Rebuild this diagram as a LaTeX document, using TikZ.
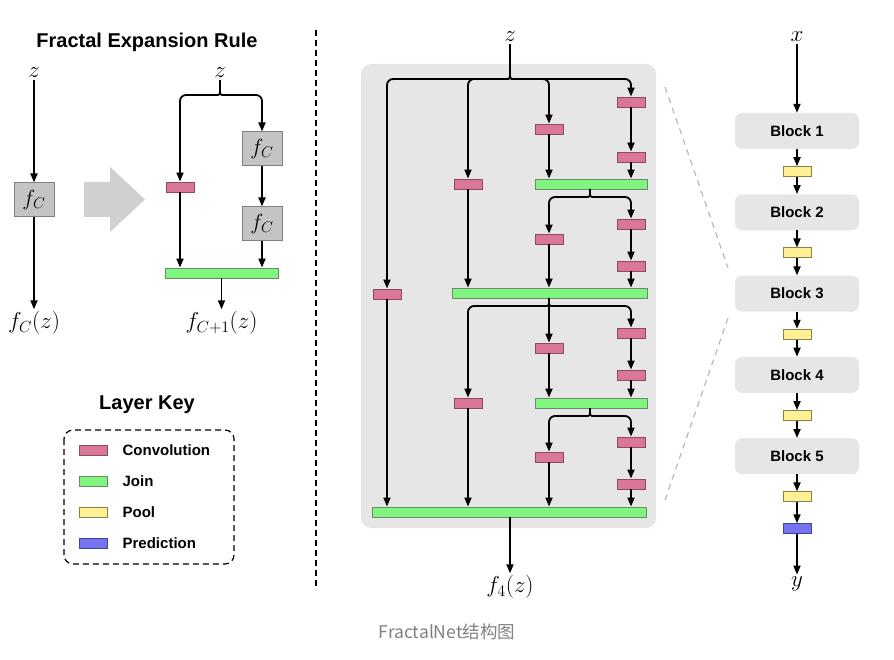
\RequirePackage{fix-cm}
\documentclass[tikz,border=0pt]{standalone}
\usepackage{fontspec}
\setsansfont{Liberation Sans}
\newfontfamily\capfont{Noto Sans CJK SC}
\usetikzlibrary{arrows.meta,positioning}

\definecolor{convfill}{HTML}{DA7698}
\definecolor{convline}{HTML}{8F4A60}
\definecolor{joinfill}{HTML}{80F680}
\definecolor{joinline}{HTML}{6A8A6A}
\definecolor{poolfill}{HTML}{FFF094}
\definecolor{poolline}{HTML}{8A8048}
\definecolor{predfill}{HTML}{7474F0}
\definecolor{predline}{HTML}{42429A}
\definecolor{panel}{HTML}{E6E6E6}
\definecolor{fcfill}{HTML}{C4C4C4}

\begin{document}
\begin{tikzpicture}[
    x=1pt, y=-1pt,
    conv/.style={draw=convline,fill=convfill,line width=0.9pt,minimum width=28pt,minimum height=10pt,inner sep=0pt},
    joinbar/.style={draw=joinline,fill=joinfill,line width=0.9pt,minimum height=10pt,inner sep=0pt},
    pool/.style={draw=poolline,fill=poolfill,line width=0.9pt,minimum width=28pt,minimum height=10pt,inner sep=0pt},
    pred/.style={draw=predline,fill=predfill,line width=0.9pt,minimum width=28pt,minimum height=10pt,inner sep=0pt},
    fcbox/.style={draw=gray,fill=fcfill,line width=1pt,minimum width=40pt,minimum height=34pt,inner sep=0pt,font=\fontsize{22}{24}\selectfont},
    block/.style={fill=panel,rounded corners=7pt,minimum width=124pt,minimum height=36pt,font=\fontsize{15}{17}\selectfont\sffamily\bfseries},
    lbl/.style={inner sep=2pt,font=\fontsize{23}{25}\selectfont},
    heading/.style={font=\fontsize{20}{22}\selectfont\sffamily\bfseries},
    keytext/.style={inner sep=0pt,anchor=west,font=\fontsize{15}{17}\selectfont\sffamily\bfseries},
    flow/.style={-{Triangle[length=9pt,width=7pt]},line width=1.8pt},
    zoomline/.style={draw=gray!55,dash pattern=on 6pt off 5pt,line width=1.2pt},
]
\useasboundingbox (0,0) rectangle (894,660);

%----------------------------------
% Fractal expansion rule
%----------------------------------

\node[heading] (ruleTitle) at (147,42) {Fractal Expansion Rule};

\node[lbl] (zA) at (34,73) {$z$};
\node[fcbox] (fcA) at (34,200) {$f_C$};
\node[lbl] (outA) at (34,323) {$f_C(z)$};

\draw[flow] (zA) -- (fcA);
\draw[flow] (fcA) -- (outA);

\fill[fcfill!80] (84,182) -- (110,182) -- (110,167) -- (145,199.5)
    -- (110,232) -- (110,217) -- (84,217) -- cycle;

\node[lbl] (zB) at (220,73) {$z$};
\node[conv] (cvB) at (180,187) {};
\node[fcbox] (fcB1) at (262,149) {$f_C$};
\node[fcbox] (fcB2) at (262,224) {$f_C$};
\node[joinbar,minimum width=113pt] (jB) at (221.5,273) {};
\node[lbl] (outB) at (221.5,323) {$f_{C+1}(z)$};

\coordinate (sB) at (220,87);
\draw[line width=1.8pt] (zB) -- (sB);
\draw[flow,rounded corners=6pt] (sB) .. controls (220,95) .. (212,95) -| (cvB);
\draw[flow,rounded corners=6pt] (sB) .. controls (220,95) .. (228,95) -| (fcB1);
\draw[flow] (cvB) -- (cvB |- jB.north);
\draw[flow] (fcB1) -- (fcB2);
\draw[flow] (fcB2) -- (fcB2 |- jB.north);
\draw[flow] (jB) -- (outB);

%----------------------------------
% Layer key
%----------------------------------

\node[heading] (keyTitle) at (147,405) {Layer Key};
\draw[dash pattern=on 6pt off 4pt,line width=1.2pt,rounded corners=9pt] (64,430) rectangle (234,564);

\node[conv] (kConv) at (93,450) {};
\node[joinbar,minimum width=28pt] (kJoin) at (93,481) {};
\node[pool] (kPool) at (93,512) {};
\node[pred] (kPred) at (93,543) {};

\node[keytext,right=15pt of kConv] {Convolution};
\node[keytext,right=15pt of kJoin] {Join};
\node[keytext,right=15pt of kPool] {Pool};
\node[keytext,right=15pt of kPred] {Prediction};

\draw[dash pattern=on 6pt off 4pt,line width=1.2pt] (316,30) -- (316,590);

%----------------------------------
% Fractal block, four columns
%----------------------------------

\fill[panel,rounded corners=10pt] (361,64) rectangle (656,528);

\node[lbl] (zC) at (510,37) {$z$};

% column 4
\node[conv] (a4) at (631,102) {};
\node[conv] (b4) at (631,157) {};
\node[conv] (d4) at (631,224) {};
\node[conv] (e4) at (631,266) {};
\node[conv] (g4) at (631,333) {};
\node[conv] (h4) at (631,375) {};
\node[conv] (k4) at (631,442) {};
\node[conv] (m4) at (631,484) {};

% column 3
\node[conv] (a3) at (549,129) {};
\node[conv] (d3) at (549,239) {};
\node[conv] (g3) at (549,348) {};
\node[conv] (k3) at (549,457) {};

% column 2
\node[conv] (a2) at (468,184) {};
\node[conv] (f2) at (468,403) {};

% column 1
\node[conv] (a1) at (387,294) {};

% joins
\node[joinbar,minimum width=112pt] (j1) at (591,184) {};
\node[joinbar,minimum width=195pt] (j2) at (549.5,293) {};
\node[joinbar,minimum width=112pt] (j3) at (591,403) {};
\node[joinbar,minimum width=274pt] (jF) at (509,512) {};

\node[lbl] (outC) at (510,587) {$f_4(z)$};

% split of z
\coordinate (s0) at (510,71);
\draw[line width=1.8pt] (zC) -- (s0);
\draw[flow,rounded corners=6pt] (s0) .. controls (510,79) .. (502,79) -| (a1);
\draw[flow,rounded corners=6pt] (s0) .. controls (510,79) .. (502,79) -| (a2);
\draw[flow,rounded corners=6pt] (s0) .. controls (510,79) .. (518,79) -| (a3);
\draw[flow,rounded corners=6pt] (s0) .. controls (510,79) .. (518,79) -| (a4);

\draw[flow] (a4) -- (b4);
\draw[flow] (b4) -- (b4 |- j1.north);
\draw[flow] (a3) -- (a3 |- j1.north);

% split of j1
\coordinate (s1) at (590,189);
\draw[flow,rounded corners=6pt] (s1) .. controls (590,197) .. (582,197) -| (d3);
\draw[flow,rounded corners=6pt] (s1) .. controls (590,197) .. (598,197) -| (d4);

\draw[flow] (d4) -- (e4);
\draw[flow] (e4) -- (e4 |- j2.north);
\draw[flow] (d3) -- (d3 |- j2.north);
\draw[flow] (a2) -- (a2 |- j2.north);

% split of j2
\coordinate (s2) at (549,298);
\draw[flow,rounded corners=6pt] (s2) .. controls (549,306) .. (541,306) -| (f2);
\draw[flow] (s2) -- (g3);
\draw[flow,rounded corners=6pt] (s2) .. controls (549,306) .. (557,306) -| (g4);

\draw[flow] (g4) -- (h4);
\draw[flow] (h4) -- (h4 |- j3.north);
\draw[flow] (g3) -- (g3 |- j3.north);

% split of j3
\coordinate (s3) at (590,408);
\draw[flow,rounded corners=6pt] (s3) .. controls (590,416) .. (582,416) -| (k3);
\draw[flow,rounded corners=6pt] (s3) .. controls (590,416) .. (598,416) -| (k4);

\draw[flow] (k4) -- (m4);
\draw[flow] (m4) -- (m4 |- jF.north);
\draw[flow] (k3) -- (k3 |- jF.north);
\draw[flow] (f2) -- (f2 |- jF.north);
\draw[flow] (a1) -- (a1 |- jF.north);

\draw[flow] (jF.south -| outC) -- (outC);

%----------------------------------
% Whole network
%----------------------------------

\node[lbl] (xIn) at (797,37) {$x$};
\node[block] (b1) at (797,131) {Block 1};
\node[pool,below=17pt of b1] (p1) {};
\node[block,below=17pt of p1] (b2) {Block 2};
\node[pool,below=17pt of b2] (p2) {};
\node[block,below=17pt of p2] (b3) {Block 3};
\node[pool,below=17pt of b3] (p3) {};
\node[block,below=17pt of p3] (b4) {Block 4};
\node[pool,below=17pt of b4] (p4) {};
\node[block,below=17pt of p4] (b5) {Block 5};
\node[pool,below=17pt of b5] (p5) {};
\node[pred,below=21pt of p5] (pr) {};
\node[lbl] (yOut) at (797,584) {$y$};

\draw[flow] (xIn) -- (b1);
\draw[flow] (b1) -- (p1);
\draw[flow] (p1) -- (b2);
\draw[flow] (b2) -- (p2);
\draw[flow] (p2) -- (b3);
\draw[flow] (b3) -- (p3);
\draw[flow] (p3) -- (b4);
\draw[flow] (b4) -- (p4);
\draw[flow] (p4) -- (b5);
\draw[flow] (b5) -- (p5);
\draw[flow] (p5) -- (pr);
\draw[flow] (pr) -- (yOut);

\draw[zoomline] (665,87) -- (728,268);
\draw[zoomline] (728,318) -- (665,500);

\node[text=gray,font=\fontsize{17.5}{20}\selectfont\capfont] (caption) at (447,632) {FractalNet结构图};
\end{tikzpicture}
\end{document}
